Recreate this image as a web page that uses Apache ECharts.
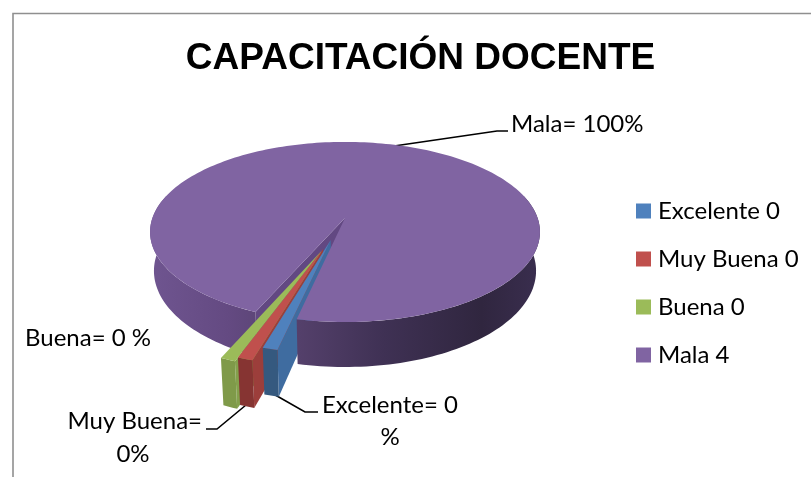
<!DOCTYPE html>
<html>
<head>
<meta charset="utf-8">
<title>Capacitación docente</title>
<script src="https://cdn.jsdelivr.net/npm/echarts@6/dist/echarts.min.js"></script>
<style>
  html, body { margin: 0; padding: 0; background: #fff; }
  #chart { width: 811px; height: 477px; }
</style>
</head>
<body>
<div id="chart"></div>
<script>
const categories = ['Excelente', 'Muy Buena', 'Buena', 'Mala'];
const values = [0, 0, 0, 4];
const sliceLabels = ['Excelente= 0', 'Muy Buena=', 'Buena= 0 %', 'Mala= 100%'];
const sliceLabelsSecondLine = ['%', '0%'];
const titleText = 'CAPACITACIÓN DOCENTE';

// colours: top face, radial wall, outer wall
const topColors = ['#4f81bd', '#c0504d', '#9bbb59', '#8064a2'];
const wallColors = ['#3f6ca0', '#9c3e3b', '#84a04c', '#624882'];
const rimColors = ['#35597f', '#863432', '#7f9a49', '#4a3a60'];
// how far each slice is pulled out of the pie (disc units)
const explodeU = [-0.0715, -0.108, -0.118, 0];
const explodeV = [0.2407, 0.3335, 0.36, 0];

// perspective of the tilted pie
const cx = 345, cy = 218, scaleX = 192.6, scaleY = 87.9, persp = 0.155, depth = 38;
const startAngle = 192.3, minAngle = 3.73;
const FONT = 'Lato';

const total = values.reduce((a, b) => a + b, 0);
const rest = 360 - values.filter(v => v === 0).length * minAngle;
const slices = [];
let cursor = startAngle;
values.forEach((v, i) => {
  const span = v === 0 ? minAngle : v / total * rest;
  slices.push({ start: cursor, end: cursor + span, du: explodeU[i], dv: explodeV[i] });
  cursor += span;
});

function project(u, v, z) {
  const d = 1 - persp * v;
  const x = scaleX * u / d;
  const y = scaleY * v / d;
  return [cx + x * (1 - 0.02 * z), cy + y + depth * z / d];
}
function rimPoint(s, deg, r, z) {
  const a = deg * Math.PI / 180;
  return project(s.du + r * Math.sin(a), s.dv - r * Math.cos(a), z);
}
function arc(s, from, to, z) {
  const pts = [];
  const n = Math.max(2, Math.ceil(Math.abs(to - from) / 1.5));
  for (let j = 0; j <= n; j++) pts.push(rimPoint(s, from + (to - from) * j / n, 1, z));
  return pts;
}
function poly(points, fill, z2) {
  return { type: 'polygon', z2: z2, shape: { points: points }, style: { fill: fill, stroke: null } };
}
function radialWall(s, deg, fill, z2) {
  return poly([rimPoint(s, deg, 0, 0), rimPoint(s, deg, 1, 0), rimPoint(s, deg, 1, 1), rimPoint(s, deg, 0, 1)], fill, z2);
}
function outerWall(s, from, to, fill, z2) {
  return poly(arc(s, from, to, 0).concat(arc(s, from, to, 1).reverse()), fill, z2);
}
const purpleWall = {
  type: 'linear', global: true, x: 150, y: 0, x2: 540, y2: 0,
  colorStops: [
    { offset: 0, color: '#6f5590' },
    { offset: 0.2, color: '#644a82' },
    { offset: 0.38, color: '#54406b' },
    { offset: 0.6, color: '#3f3154' },
    { offset: 0.85, color: '#30263f' },
    { offset: 1, color: '#3a2e4f' }
  ]
};

function renderSlice(params) {
  const i = params.seriesIndex;
  const s = slices[i];
  const top = poly([rimPoint(s, s.start, 0, 0)].concat(arc(s, s.start, s.end, 0)), topColors[i], 0);
  if (i === 3) {
    top.z2 = 31;
    return {
      type: 'group',
      children: [
        radialWall(s, s.start, wallColors[i], 1),
        outerWall(s, s.start, 285, purpleWall, 2),
        outerWall(s, 435, s.end, purpleWall, 30),
        top
      ]
    };
  }
  const base = 10 + (2 - i) * 3;
  top.z2 = base + 2;
  return {
    type: 'group',
    children: [
      radialWall(s, s.start, wallColors[i], base),
      outerWall(s, s.start, s.end, rimColors[i], base + 1),
      top
    ]
  };
}

function textEl(text, x, y, align) {
  return {
    type: 'text', x: x, y: y,
    style: { text: text, fill: '#000', font: '24px ' + FONT, textAlign: align || 'left', textVerticalAlign: 'middle' }
  };
}
function leader(points) {
  return { type: 'polyline', shape: { points: points }, style: { stroke: '#000', lineWidth: 1.6, fill: null } };
}

const chart = echarts.init(document.getElementById('chart'), null, { renderer: 'canvas' });
chart.setOption({
  animation: false,
  backgroundColor: '#fff',
  title: {
    text: titleText, left: 415.5, top: 35, textAlign: 'center',
    textStyle: { fontFamily: 'Liberation Sans', fontWeight: 'bold', fontSize: 37, color: '#000' }
  },
  legend: {
    orient: 'vertical', left: 636, top: 197, padding: 0, icon: 'rect',
    itemWidth: 15, itemHeight: 15, itemGap: 20,
    selectedMode: false,
    textStyle: { fontFamily: FONT, fontSize: 24, color: '#000', padding: [0, 0, 0, 2], lineHeight: 28 }
  },
  graphic: { elements: [
    { type: 'polyline', shape: { points: [[13, 480], [13, 13.5], [815, 13.5]] }, style: { stroke: '#8f8f8f', lineWidth: 1.6, fill: null } },
    leader([[394, 146], [497, 131], [508, 131]]),
    leader([[270, 392], [305, 412], [318, 412]]),
    leader([[246, 405], [217, 429], [206, 429]]),
    textEl(sliceLabels[3], 511, 124),
    textEl(sliceLabels[0], 322, 405),
    textEl(sliceLabelsSecondLine[0], 390, 437, 'center'),
    textEl(sliceLabels[1], 202, 421, 'right'),
    textEl(sliceLabelsSecondLine[1], 133, 454, 'center'),
    textEl(sliceLabels[2], 25, 338)
  ] },
  series: categories.map((name, i) => ({
    type: 'custom',
    name: name + ' ' + values[i],
    coordinateSystem: 'none',
    silent: true,
    itemStyle: { color: topColors[i] },
    data: [[values[i]]],
    renderItem: renderSlice
  }))
});
</script>
</body>
</html>
